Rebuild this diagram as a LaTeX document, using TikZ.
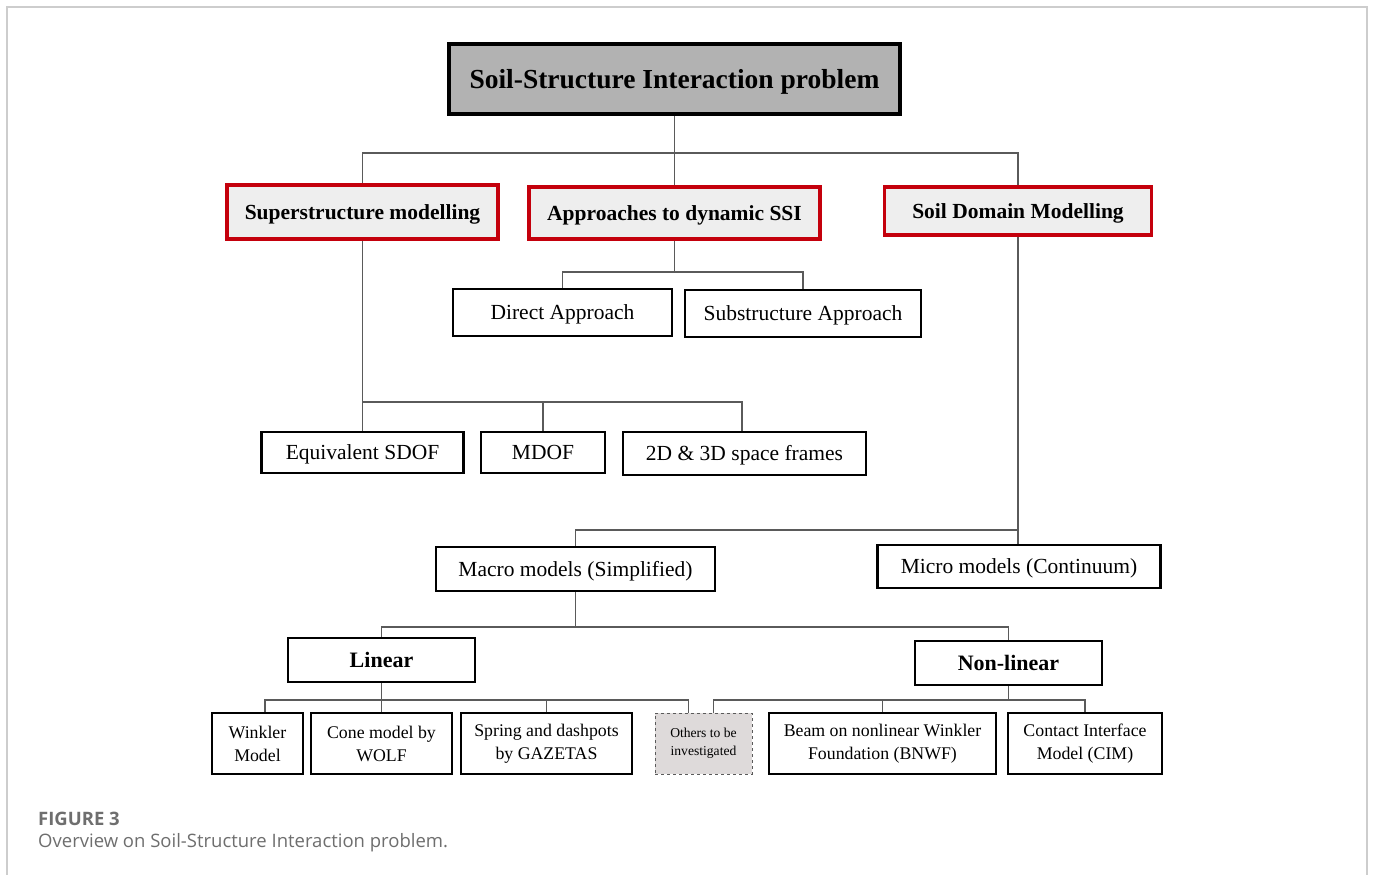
\documentclass[tikz,border=0pt]{standalone}
\usepackage{fontspec}
\setmainfont{Liberation Serif}
\newfontfamily\capfont{Open Sans}
\definecolor{redb}{HTML}{C4000C}
\definecolor{redfill}{HTML}{EEEEEE}
\definecolor{topfill}{HTML}{B2B2B2}
\definecolor{conncol}{HTML}{5A5A5A}
\definecolor{othfill}{HTML}{DEDADA}
\definecolor{capcol}{HTML}{6E6E6E}
\definecolor{framecol}{HTML}{CDCDCD}
\tikzset{
  bx/.style={draw=black, inner sep=0pt, align=center, text=black},
  oneline/.style={text height=#1, text depth=0pt},
  topbox/.style={bx, oneline=18.4pt, fill=topfill, line width=4pt, font=\fontsize{27.5}{31}\selectfont\bfseries},
  redbox/.style={bx, oneline=14.3pt, draw=redb, fill=redfill, line width=3.5pt, font=\fontsize{21.5}{25}\selectfont\bfseries},
  midbox/.style={bx, oneline=14.3pt, line width=2.8pt, font=\fontsize{21.5}{25}\selectfont},
  lnbox/.style={bx, oneline=14.6pt, line width=2.2pt, font=\fontsize{22}{26}\selectfont\bfseries},
  lowbox/.style={bx, line width=1.8pt, font=\fontsize{17.8}{23}\selectfont},
  othbox/.style={bx, draw=conncol, dashed, fill=othfill, line width=1pt, font=\fontsize{13.6}{18}\selectfont},
  conn/.style={draw=conncol, line width=1.3pt}
}
\begin{document}
\begin{tikzpicture}[x=1pt,y=-1pt]
\useasboundingbox (0,0) rectangle (1373,875);
% outer frame
\draw[framecol, line width=2pt] (7,875) -- (7,7) -- (1367,7) -- (1367,875);

% nodes
\node[topbox, minimum width=451pt, minimum height=70pt] (top) at (674.5,79) {Soil-Structure Interaction problem};

\node[redbox, minimum width=271pt, minimum height=54pt] (sup) at (362.5,212) {Superstructure modelling};
\node[redbox, minimum width=291pt, minimum height=52pt] (app) at (674.5,213) {Approaches to dynamic SSI};
\node[redbox, minimum width=267pt, minimum height=48pt] (soil) at (1018,211) {Soil Domain Modelling};

\node[midbox, minimum width=219pt, minimum height=47pt] (direct) at (562.5,312.5) {Direct Approach};
\node[midbox, minimum width=236pt, minimum height=47pt] (subs) at (803,313.5) {Substructure Approach};

\node[midbox, minimum width=202pt, minimum height=41pt] (eq) at (362.5,452.5) {Equivalent SDOF};
\node[midbox, minimum width=124pt, minimum height=41pt] (mdof) at (543,452.5) {MDOF};
\node[midbox, minimum width=243pt, minimum height=43pt] (frames) at (744.5,453.5) {2D \& 3D space frames};

\node[midbox, minimum width=279pt, minimum height=44pt] (macro) at (575.5,569) {Macro models (Simplified)};
\node[midbox, minimum width=283pt, minimum height=43pt] (micro) at (1019,566.5) {Micro models (Continuum)};

\node[lnbox, minimum width=187pt, minimum height=44pt] (linear) at (381.5,660) {Linear};
\node[lnbox, minimum width=187pt, minimum height=44pt] (nonlin) at (1008.5,663) {Non-linear};

\node[lowbox, minimum width=91pt, minimum height=61pt] (winkler) at (257.5,743.5) {Winkler\\Model};
\node[lowbox, minimum width=141pt, minimum height=61pt] (cone) at (381.5,743.5) {Cone model by\\WOLF};
\node[lowbox, minimum width=171pt, minimum height=61pt] (spring) at (546.5,743.5) {Spring and dashpots\\by GAZETAS};
\node[othbox, minimum width=97pt, minimum height=61pt] (others) at (703.5,743.5) {Others to be\\investigated};
\node[lowbox, minimum width=227pt, minimum height=61pt] (bnwf) at (882.5,743.5) {Beam on nonlinear Winkler\\Foundation (BNWF)};
\node[lowbox, minimum width=154pt, minimum height=61pt] (cim) at (1085,743.5) {Contact Interface\\Model (CIM)};

% junction coordinates
\coordinate (jt) at (674.5,153);
\coordinate (ja) at (674.5,272);
\coordinate (js) at (362.5,402);
\coordinate (jm) at (1018,530);
\coordinate (jk) at (575.5,627);
\coordinate (jl) at (381.5,700);
\coordinate (jn) at (1008.5,700);

% connectors
\draw[conn] (top.south) -- (app.north);
\draw[conn] (sup.north) |- (jt) -| (soil.north);

\draw[conn] (app.south) -- (ja);
\draw[conn] (direct.north) |- (ja) -| (subs.north);

\draw[conn] (sup.south) -- (eq.north);
\draw[conn] (js) -| ([xshift=-2.5pt]frames.north);
\draw[conn] (mdof.north) -- (mdof.north |- js);

\draw[conn] (soil.south) -- (soil.south |- micro.north);
\draw[conn] (macro.north) |- (jm);

\draw[conn] (macro.south) -- (jk);
\draw[conn] (linear.north) |- (jk) -| (nonlin.north);

\draw[conn] (linear.south) -- (cone.north);
\draw[conn] ([xshift=7.5pt]winkler.north) |- (jl) -| ([xshift=-15pt]others.north);
\draw[conn] (spring.north) -- (spring.north |- jl);

\draw[conn] (nonlin.south) -- (jn);
\draw[conn] ([xshift=10pt]others.north) |- (jn) -| (cim.north);
\draw[conn] (bnwf.north) -- (bnwf.north |- jn);

% caption
\node[anchor=base west, inner sep=0pt, text=capcol, font=\capfont\fontsize{18.5}{22}\selectfont\bfseries] (figlab) at (38,825) {FIGURE 3};
\node[anchor=base west, inner sep=0pt, text=capcol, font=\capfont\fontsize{18.5}{22}\selectfont] (figcap) at (38,847) {Overview on Soil-Structure Interaction problem.};
\end{tikzpicture}
\end{document}
